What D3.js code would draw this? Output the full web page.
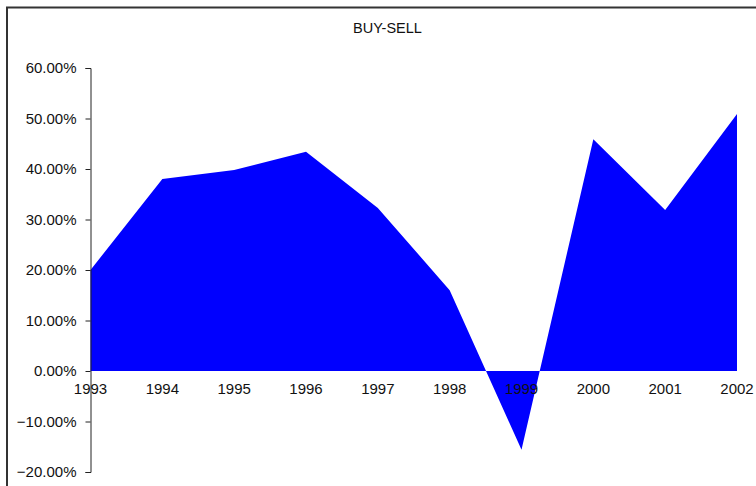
<!DOCTYPE html>
<html>
<head>
<meta charset="utf-8">
<script src="https://cdn.jsdelivr.net/npm/d3@7"></script>
<style>
  body { margin: 0; background: #fff; }
  svg { display: block; font-family: "Liberation Sans", Arial, sans-serif; }
</style>
</head>
<body>
<div class="chart"></div>
<script>
const years = [1993, 1994, 1995, 1996, 1997, 1998, 1999, 2000, 2001, 2002];
const buySell = [0.200, 0.380, 0.398, 0.434, 0.323, 0.160, -0.156, 0.459, 0.319, 0.509];
const yTicks = [-0.2, -0.1, 0, 0.1, 0.2, 0.3, 0.4, 0.5, 0.6];

function drawChart() {
  const w = 756;
  const h = 486;

  const xScale = d3.scaleLinear()
    .domain([1993, 2002])
    .range([90.5, 737]);
  const yScale = d3.scaleLinear()
    .domain([-0.2, 0.6])
    .range([472, 68]);

  const svg = d3.select('.chart')
    .append('svg')
    .attr('width', w)
    .attr('height', h);

  // outer frame (only left and top visible)
  svg.append('path')
    .attr('d', 'M7,486V7.5H756')
    .attr('fill', 'none')
    .attr('stroke', '#333')
    .attr('stroke-width', 2);

  svg.append('text')
    .attr('x', 387.5)
    .attr('y', 33)
    .attr('text-anchor', 'middle')
    .attr('font-size', 14.5)
    .attr('fill', '#111')
    .text('BUY-SELL');

  const data = years.map((y, i) => ({ year: y, value: buySell[i] }));

  const area = d3.area()
    .x((d) => xScale(d.year))
    .y0(yScale(0))
    .y1((d) => yScale(d.value));

  svg.append('path')
    .datum(data)
    .attr('d', area)
    .attr('fill', '#0000ff');

  const yAxis = svg.append('g')
    .attr('class', 'y-axis')
    .attr('transform', 'translate(90.5, 0)')
    .call(d3.axisLeft(yScale)
      .tickValues(yTicks)
      .tickSize(5)
      .tickPadding(9)
      .tickFormat(d3.format('.2%')));
  yAxis.select('.domain').attr('stroke', '#222');
  yAxis.selectAll('.tick line').attr('stroke', '#222');
  yAxis.selectAll('.tick text')
    .attr('font-size', 15)
    .attr('font-family', '"Liberation Sans", Arial, sans-serif')
    .attr('fill', '#111');

  svg.append('g')
    .attr('class', 'x-labels')
    .selectAll('text')
    .data(years)
    .join('text')
    .attr('x', (d) => xScale(d))
    .attr('y', 394)
    .attr('text-anchor', 'middle')
    .attr('font-size', 15)
    .attr('fill', '#111')
    .text((d) => d);
}

drawChart();
</script>
</body>
</html>
